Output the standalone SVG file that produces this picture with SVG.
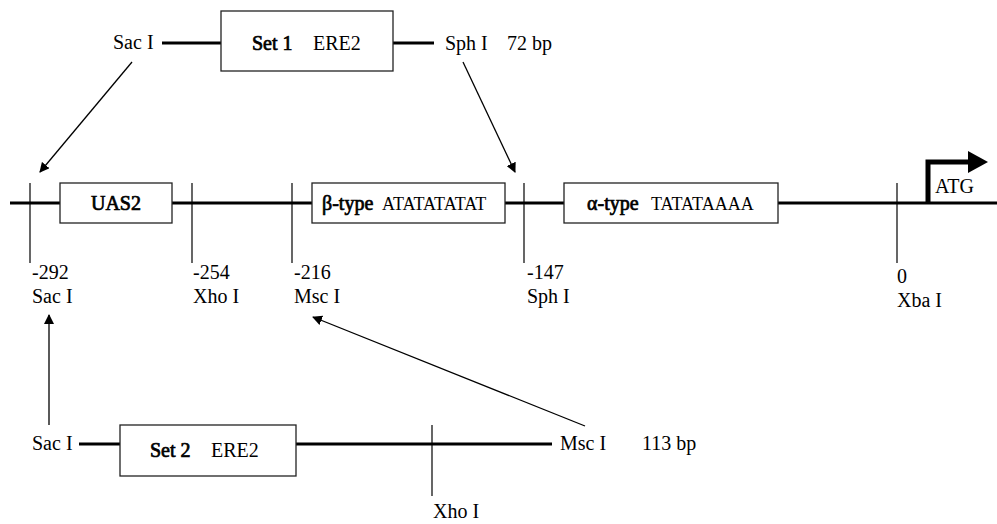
<svg xmlns="http://www.w3.org/2000/svg" width="997" height="524" viewBox="0 0 997 524">
<defs>
<style>
text{font-family:"Liberation Serif","Times New Roman",serif;font-size:20px;fill:#000}
.b{stroke:#000;stroke-width:0.7;paint-order:stroke}
.seq{font-size:18px}
.box{fill:#fff;stroke:#222;stroke-width:1.3}
.thick{stroke:#000;stroke-width:3;fill:none}
.tick{stroke:#000;stroke-width:1.2;fill:none}
.arr{stroke:#000;stroke-width:1.3;fill:none;marker-end:url(#ah)}
</style>
<marker id="ah" viewBox="0 0 10 10" refX="9" refY="5" markerWidth="10" markerHeight="10" markerUnits="userSpaceOnUse" orient="auto">
<path d="M0,0 L10,5 L0,10 Z" fill="#000"/>
</marker>
</defs>
<rect width="997" height="524" fill="#fff"/>

<g id="connectors">
<line class="thick" x1="162" y1="43" x2="221" y2="43"/>
<line class="thick" x1="393" y1="43" x2="434" y2="43"/>
<line class="thick" x1="10" y1="203" x2="997" y2="203"/>
<line class="thick" x1="79" y1="444" x2="120" y2="444"/>
<line class="thick" x1="296" y1="444" x2="552" y2="444"/>
<line class="arr" x1="132" y1="62" x2="40" y2="172"/>
<line class="arr" x1="463" y1="62" x2="515" y2="172"/>
<line class="arr" x1="49" y1="425" x2="49" y2="315"/>
<line class="arr" x1="585" y1="426" x2="313" y2="317"/>
</g>

<g id="set1">
<rect class="box" x="221" y="11" width="172" height="60"/>
<text y="50"><tspan class="b" x="252">Set 1</tspan><tspan x="313">ERE2</tspan></text>
<text x="113" y="49">Sac I</text>
<text x="445" y="50">Sph I</text>
<text x="507" y="50">72 bp</text>
</g>

<g id="uas2">
<rect class="box" x="60" y="183" width="112" height="40"/>
<text class="b" x="116" y="210" text-anchor="middle">UAS2</text>
</g>

<g id="beta">
<rect class="box" x="312" y="183" width="193" height="40"/>
<text y="210"><tspan class="b" x="322">β-type</tspan><tspan class="seq" x="382">ATATATATAT</tspan></text>
</g>

<g id="alpha">
<rect class="box" x="564" y="183" width="214" height="40"/>
<text y="210"><tspan class="b" x="587">α-type</tspan><tspan class="seq" x="651">TATATAAAA</tspan></text>
</g>

<g id="site-292">
<line class="tick" x1="30" y1="183" x2="30" y2="263"/>
<text x="32" y="279">-292</text>
<text x="32" y="303">Sac I</text>
</g>
<g id="site-254">
<line class="tick" x1="192" y1="183" x2="192" y2="263"/>
<text x="193" y="279">-254</text>
<text x="193" y="303">Xho I</text>
</g>
<g id="site-216">
<line class="tick" x1="292" y1="183" x2="292" y2="263"/>
<text x="294" y="279">-216</text>
<text x="294" y="303">Msc I</text>
</g>
<g id="site-147">
<line class="tick" x1="524" y1="183" x2="524" y2="263"/>
<text x="527" y="279">-147</text>
<text x="527" y="303">Sph I</text>
</g>
<g id="site-0">
<line class="tick" x1="897" y1="183" x2="897" y2="263"/>
<text x="897" y="283">0</text>
<text x="897" y="307">Xba I</text>
</g>

<g id="atg">
<path d="M928,203 V162 H970" stroke="#000" stroke-width="5" fill="none"/>
<path d="M968,151 L988,162 L968,173 Z" fill="#000"/>
<text x="935" y="193">ATG</text>
</g>

<g id="set2">
<rect class="box" x="120" y="425" width="176" height="51"/>
<text y="457"><tspan class="b" x="150">Set 2</tspan><tspan x="211">ERE2</tspan></text>
<text x="32" y="450">Sac I</text>
<line class="tick" x1="432" y1="425" x2="432" y2="496"/>
<text x="433" y="518">Xho I</text>
<text x="560" y="450">Msc I</text>
<text x="642" y="450">113 bp</text>
</g>
</svg>
